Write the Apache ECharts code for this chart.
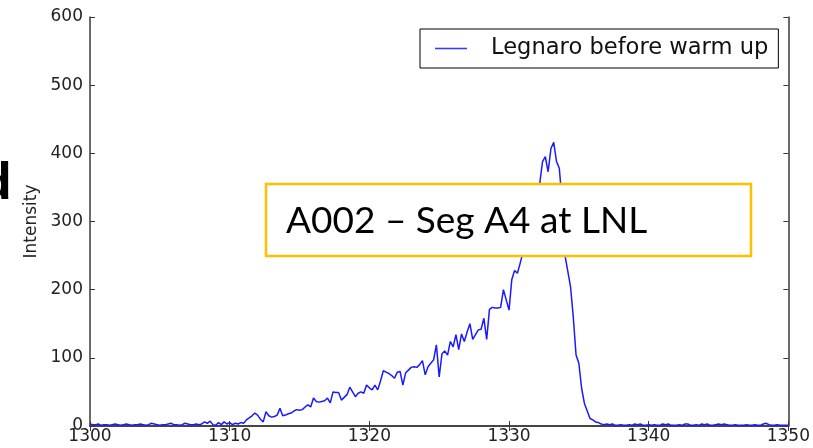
<!DOCTYPE html>
<html>
<head>
<meta charset="utf-8">
<script src="https://cdn.jsdelivr.net/npm/echarts@6/dist/echarts.min.js"></script>
<style>html,body{margin:0;padding:0;background:#fff;}#c{width:813px;height:448px;}</style>
</head>
<body>
<div id="c"></div>
<script>
// Sampled energy axis
const xStart = 1300;
const xStep = 0.2;
// Intensity values, one per sample from 1300.0 to 1350.0
const intensity = [
  3,2,2,3,1,2,2,1,2,3, 2,1,2,3,2,1,2,2,3,2, 1,2,4,3,2,1,2,2,3,4, 2,2,1,2,4,3,2,2,3,2,
  3,6,4,7,2,1,5,2,6,3, 5,2,4,3,5,4,9,
  12,15,19,16,10,6,21,15,13,14,
  16,26,15,16,18,19,22,24,23,24,
  28,31,28,41,36,35,36,37,41,34,
  50,49,49,38,42,46,57,50,43,48,
  50,48,60,56,53,60,53,66,81,79,
  77,74,70,79,80,60,78,82,86,87,
  86,90,96,75,87,92,97,119,72,106,
  110,104,124,116,134,112,135,124,138,150,
  127,134,141,142,158,127,171,174,173,173,
  174,200,185,170,215,228,224,239,255,278,
  300,318,332,345,356,388,395,373,407,416,
  388,378,330,251,228,205,160,104,92,55,
  33,22,11,9,6,5,3,
  2,3,2,3,1,1,2,1,1,2, 1,3,2,3,1,1,2,1,2,1, 1,3,2,3,1,1,1,2,1,3,
  3,1,1,2,1,3,2,3,1,1, 2,3,2,3,2,1,1,2,1,1, 1,2,1,1,2,1,1,3,4,2,
  1,1,2,1,1,1,1
];
const xTicks = [1300, 1310, 1320, 1330, 1340, 1350];
const yTicks = [0, 100, 200, 300, 400, 500, 600];
const seriesName = 'Legnaro before warm up';
const yName = 'Intensity';
const noteText = 'A002 \u2013 Seg A4 at LNL';
const edgeText = 'd';

const points = intensity.map((v, i) => [+(xStart + i * xStep).toFixed(1), v]);

const chart = echarts.init(document.getElementById('c'), null, {renderer: 'canvas'});
const axisColor = '#3a3a3a';
const labelFont = {fontFamily: 'DejaVu Sans', fontSize: 17, color: '#222', formatter: v => String(v)};
const frameLine = {show: true, lineStyle: {color: axisColor, width: 1.5}};
const tickIn = {show: true, inside: true, length: 5, lineStyle: {color: axisColor, width: 1}};

chart.setOption({
  animation: false,
  backgroundColor: '#fff',
  grid: {left: 90, top: 17, right: 24, bottom: 22, containLabel: false},
  xAxis: [
    {type: 'value', min: xTicks[0], max: xTicks[xTicks.length - 1], interval: 10,
     axisLine: frameLine, axisTick: tickIn, splitLine: {show: false},
     axisLabel: Object.assign({margin: 2}, labelFont)},
    {type: 'value', position: 'top', min: xTicks[0], max: xTicks[xTicks.length - 1], interval: 10,
     axisLine: frameLine, axisTick: tickIn, splitLine: {show: false}, axisLabel: {show: false}}
  ],
  yAxis: [
    {type: 'value', min: yTicks[0], max: yTicks[yTicks.length - 1], interval: 100,
     name: yName, nameLocation: 'middle', nameGap: 46,
     nameTextStyle: {fontFamily: 'DejaVu Sans', fontSize: 17, color: '#222'},
     axisLine: frameLine, axisTick: tickIn, splitLine: {show: false},
     axisLabel: Object.assign({margin: 7}, labelFont)},
    {type: 'value', position: 'right', min: yTicks[0], max: yTicks[yTicks.length - 1], interval: 100,
     axisLine: frameLine, axisTick: tickIn, splitLine: {show: false}, axisLabel: {show: false}}
  ],
  legend: {
    show: true, left: 420, top: 29,
    padding: [8, 10, 8, 15],
    borderColor: '#000', borderWidth: 1, backgroundColor: '#fff', borderRadius: 0,
    icon: 'rect', itemWidth: 32, itemHeight: 1.6,
    itemStyle: {color: '#3a3aff'},
    textStyle: {fontFamily: 'DejaVu Sans', fontSize: 22.6, color: '#111', padding: [0, 0, 0, 19]},
    data: [seriesName]
  },
  series: [{
    name: seriesName, type: 'line', data: points,
    symbol: 'none', showSymbol: false,
    lineStyle: {color: '#1a1aff', width: 1.5}, itemStyle: {color: '#1a1aff'}
  }],
  graphic: [
    {type: 'rect', z: 100, shape: {x: 266, y: 184, width: 485, height: 72},
     style: {fill: '#fff', stroke: '#FFC000', lineWidth: 2.5}},
    {type: 'text', z: 101, style: {x: 286, y: 221, text: noteText, font: '37px Lato', fill: '#000', textVerticalAlign: 'middle'}},
    {type: 'text', z: 101, style: {x: -20, y: 185, text: edgeText, font: 'bold 52px "Liberation Sans"', fill: '#000', textVerticalAlign: 'middle'}}
  ]
});
</script>
</body>
</html>
